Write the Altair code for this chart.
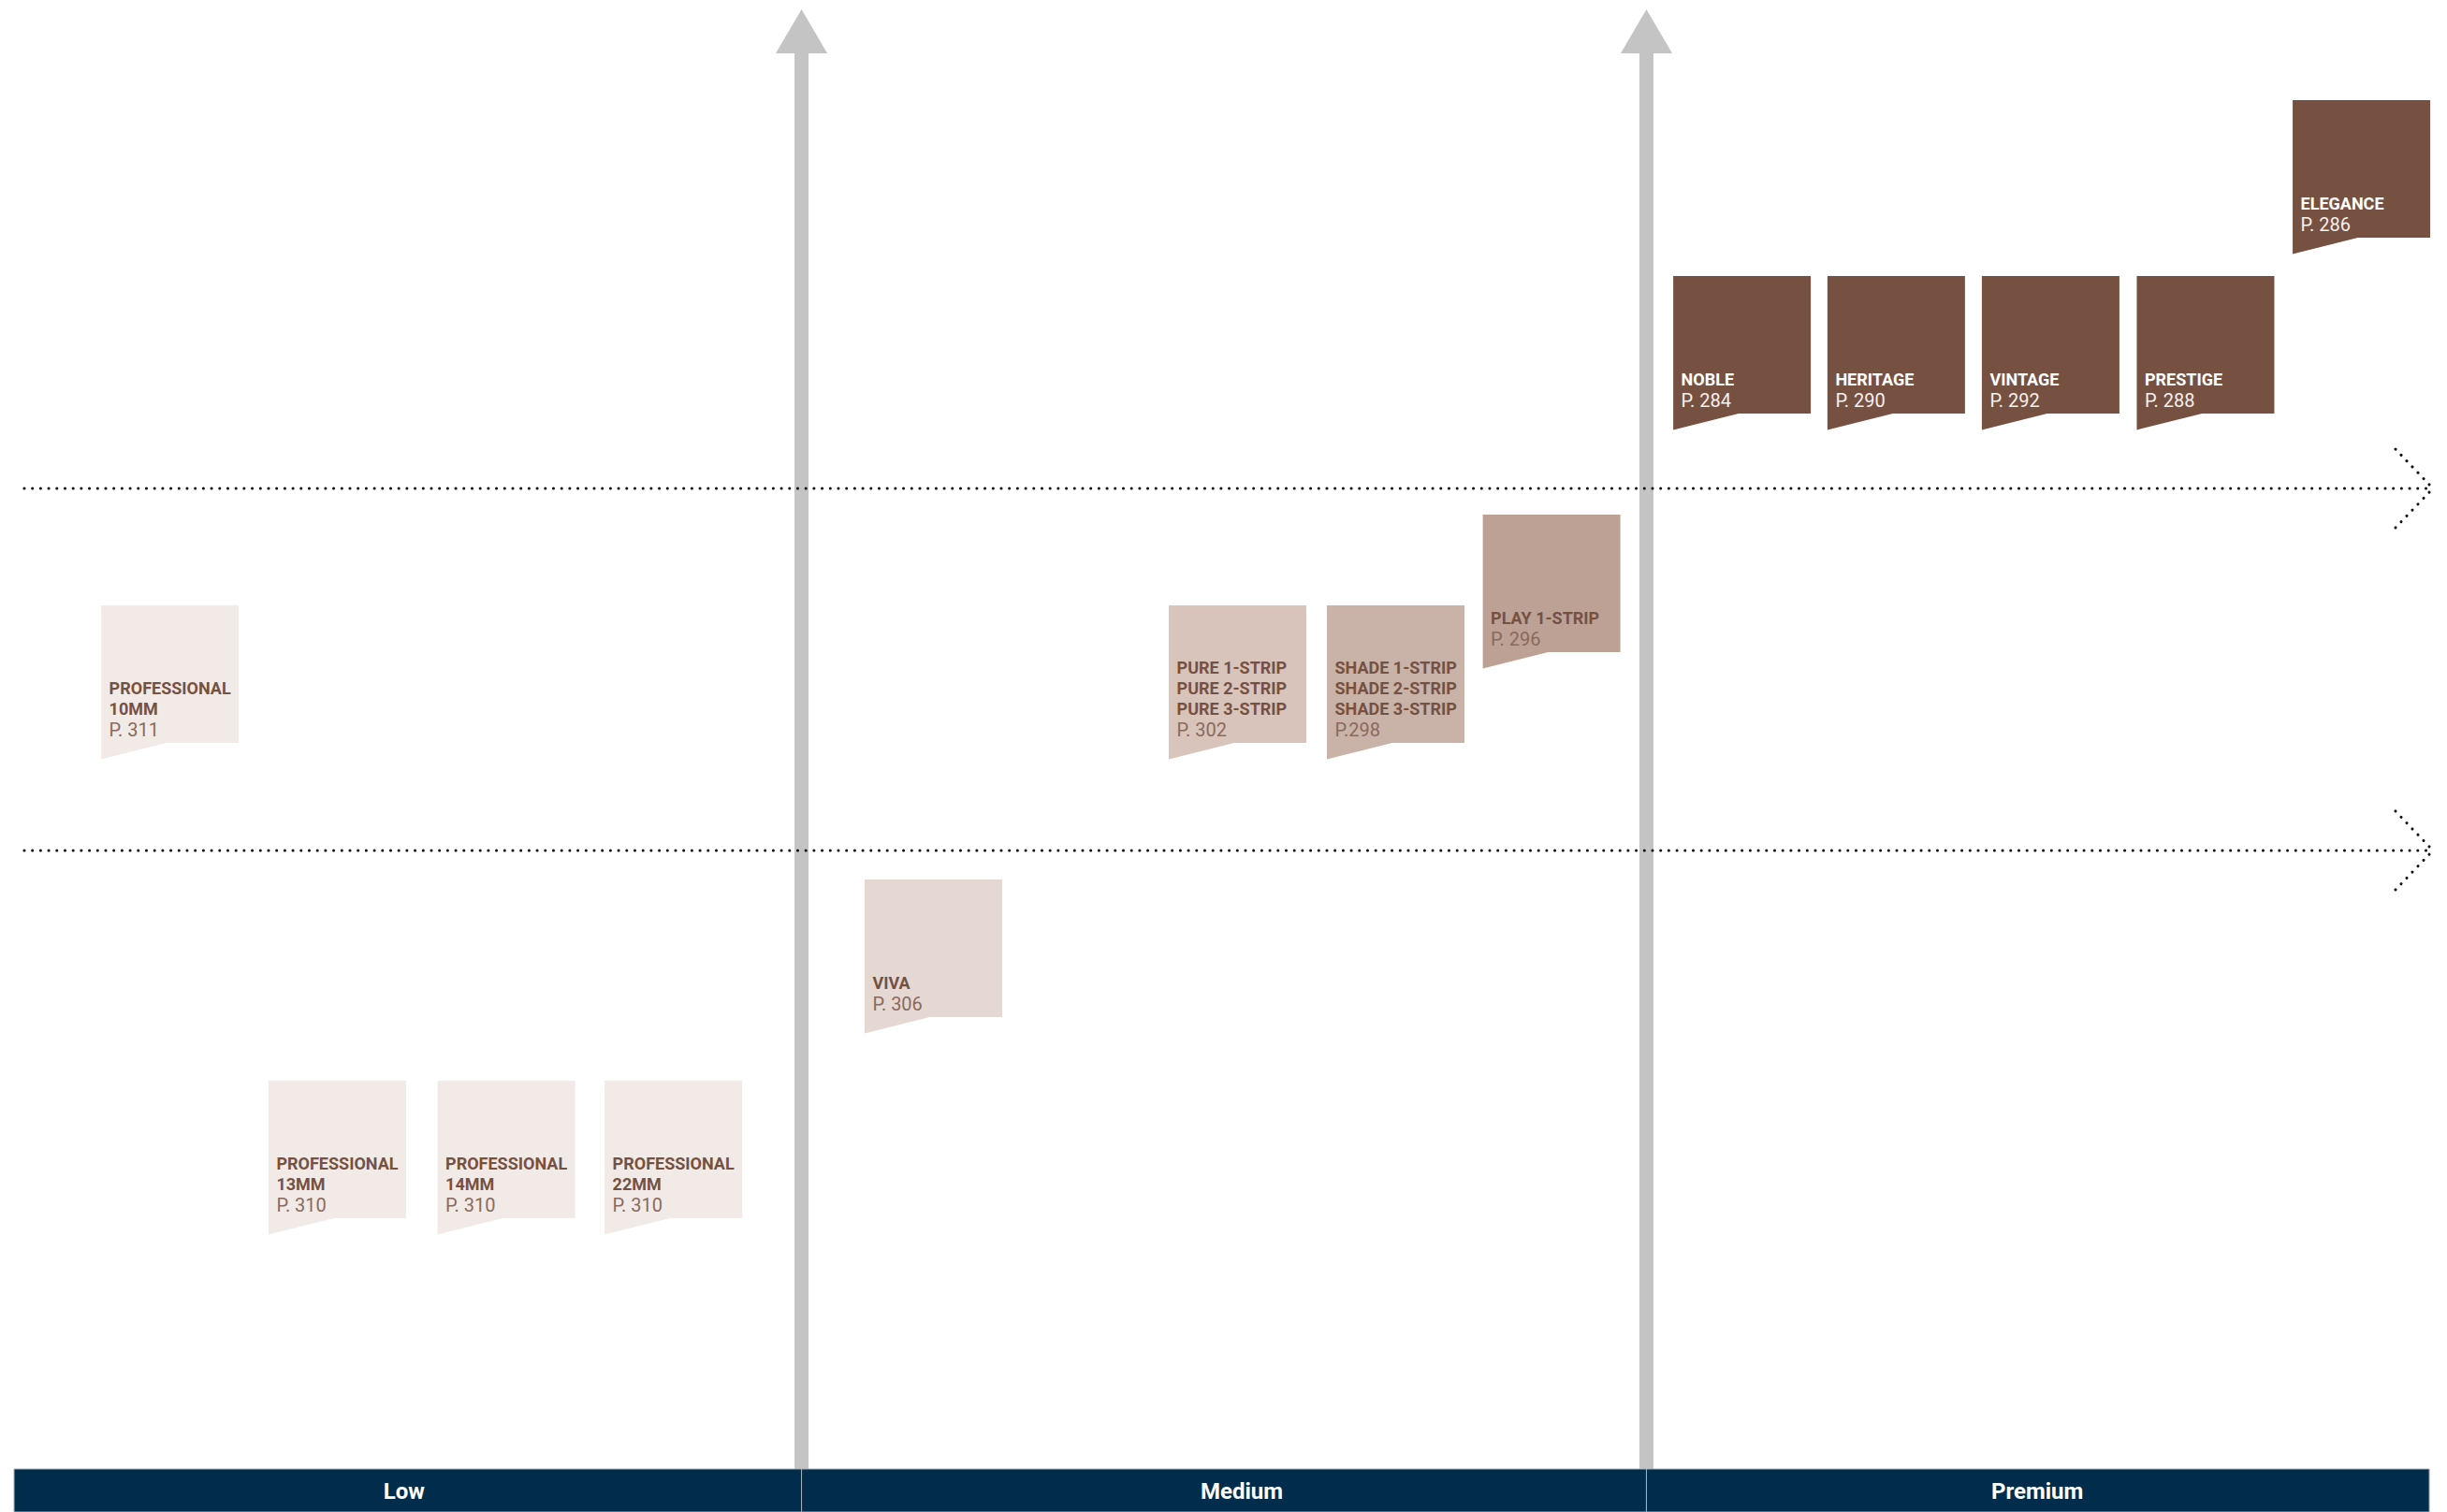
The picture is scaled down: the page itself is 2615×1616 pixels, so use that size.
import altair as alt
import pandas as pd

# ---------------- data ----------------
# product flags: name lines, catalogue page, product line, price index (0-100), quality index (0-100)
names = [
    "PROFESSIONAL\n10MM", "PROFESSIONAL\n13MM", "PROFESSIONAL\n14MM", "PROFESSIONAL\n22MM",
    "VIVA",
    "PURE 1-STRIP\nPURE 2-STRIP\nPURE 3-STRIP",
    "SHADE 1-STRIP\nSHADE 2-STRIP\nSHADE 3-STRIP",
    "PLAY 1-STRIP",
    "NOBLE", "HERITAGE", "VINTAGE", "PRESTIGE", "ELEGANCE",
]
pages = ["P. 311", "P. 310", "P. 310", "P. 310", "P. 306", "P. 302", "P.298",
         "P. 296", "P. 284", "P. 290", "P. 292", "P. 288", "P. 286"]
product_line = ["Professional"] * 4 + ["Viva", "Pure", "Shade", "Play"] + ["Luxury"] * 5
price = [6.68, 13.56, 20.51, 27.38, 38.07, 50.58, 57.08, 63.49, 71.32, 77.66, 84.01, 90.38, 96.79]
quality = [55.47, 23.72, 23.72, 23.72, 37.16, 55.47, 55.47, 61.53, 77.47, 77.47, 77.47, 77.47, 89.22]

# price tiers along the bottom band
tiers = ["Low", "Medium", "Premium"]
tier_start = [0.27, 32.65, 67.39]
tier_end = [32.65, 67.39, 99.58]
tier_label_at = [16.31, 50.75, 83.46]

# quality thresholds (dotted arrows)
quality_levels = [43.69, 67.875]

# ---------------- styles ----------------
FILL = {"Professional": "#F2EAE6", "Viva": "#E5D7D2", "Pure": "#D8C4BA",
        "Shade": "#C9B2A7", "Play": "#BDA194", "Luxury": "#765142"}
NAME_COLOR = {k: ("#FFFFFF" if k == "Luxury" else "#765142") for k in FILL}
PAGE_COLOR = {k: ("#F6F0ED" if k == "Luxury" else "#8A6A5C") for k in FILL}
NAVY = "#022C4C"
GREY = "#C4C4C4"
FONT = "Roboto"

H = 1608                  # plot height in px
YMIN = (1600 - H) / 16    # y index at the bottom edge (band runs to the page bottom)
BAND_TOP = 2.375          # top of the tier band (y index)
ARROW_BASE = 97.2         # where the grey shafts meet their heads
ARROW_HEAD = 98.41        # centre of the grey arrow heads
LINE_X0, LINE_X1 = 0.69, 99.73
CHEV_BACK, CHEV_HALF = 98.19, 2.625
LINE_H = 22               # line height of the bold names (px)

FLAG = "M-1,-1 L1,-1 L1,1 L-0.05,1 L-1,1.238 Z"
HEAD = "M0,-0.855 L1,0.855 L-1,0.855 Z"

X = dict(scale=alt.Scale(domain=[0, 100], nice=False, zero=False), axis=None)
Y = dict(scale=alt.Scale(domain=[YMIN, 100], nice=False, zero=False), axis=None)

prod = pd.DataFrame({"name": names, "page": pages, "line": product_line,
                     "price": price, "quality": quality})
prod["fill"] = prod["line"].map(FILL)
prod["ncol"] = prod["line"].map(NAME_COLOR)
prod["pcol"] = prod["line"].map(PAGE_COLOR)
prod["nlines"] = prod["name"].str.count("\n") + 1

band = pd.DataFrame({"tier": tiers, "x0": tier_start, "x1": tier_end,
                     "lx": tier_label_at, "y0": YMIN, "y1": BAND_TOP})

bounds = pd.DataFrame({"x": tier_start[1:], "y0": BAND_TOP, "y1": ARROW_BASE, "yh": ARROW_HEAD})

lev = pd.DataFrame({"q": quality_levels, "x0": LINE_X0, "x1": LINE_X1})
chev = pd.DataFrame(
    [{"xa": CHEV_BACK, "ya": q + s * CHEV_HALF, "xb": LINE_X1, "yb": q}
     for q in quality_levels for s in (1, -1)]
)

# ---------------- layers ----------------
shafts = alt.Chart(bounds).mark_rule(color=GREY, strokeWidth=15, strokeCap="butt").encode(
    x=alt.X("x:Q", **X), y=alt.Y("y0:Q", **Y), y2="y1:Q")
heads = alt.Chart(bounds).mark_point(shape=HEAD, size=3025, filled=True, opacity=1,
                                     color=GREY, strokeWidth=0).encode(
    x=alt.X("x:Q", **X), y=alt.Y("yh:Q", **Y))

dots = dict(color="#111111", strokeWidth=3, strokeDash=[0.1, 8.6], strokeCap="round")
levels = alt.Chart(lev).mark_rule(**dots).encode(
    x=alt.X("x0:Q", **X), x2="x1:Q", y=alt.Y("q:Q", **Y))
chevrons = alt.Chart(chev).mark_rule(**dots).encode(
    x=alt.X("xa:Q", **X), x2="xb:Q", y=alt.Y("ya:Q", **Y), y2="yb:Q")

band_rects = alt.Chart(band).mark_rect(color=NAVY, stroke="#A7B2BD", strokeWidth=1).encode(
    x=alt.X("x0:Q", **X), x2="x1:Q", y=alt.Y("y0:Q", **Y), y2="y1:Q")
band_text = alt.Chart(band).transform_calculate(ym="(datum.y0 + datum.y1) / 2").mark_text(
    font=FONT, fontWeight="bold", fontSize=24, color="white",
    baseline="middle", align="center", dy=2).encode(
    x=alt.X("lx:Q", **X), y=alt.Y("ym:Q", **Y), text="tier:N")

flags = alt.Chart(prod).mark_point(shape=FLAG, size=147 * 147, filled=True, opacity=1,
                                   strokeWidth=0).encode(
    x=alt.X("price:Q", **X), y=alt.Y("quality:Q", **Y), fill=alt.Fill("fill:N", scale=None))

# bold names, bottom-anchored: the first line moves up one line per extra line
name_layers = []
for n in sorted(prod["nlines"].unique()):
    name_layers.append(
        alt.Chart(prod).transform_filter(f"datum.nlines == {n}").mark_text(
            font=FONT, fontWeight="bold", fontSize=18, align="left",
            baseline="alphabetic", dx=-65, dy=43.5 - (n - 1) * LINE_H,
            lineBreak="\n", lineHeight=LINE_H).encode(
            x=alt.X("price:Q", **X), y=alt.Y("quality:Q", **Y), text="name:N",
            color=alt.Color("ncol:N", scale=None))
    )

page_text = alt.Chart(prod).mark_text(font=FONT, fontSize=20, align="left",
                                      baseline="alphabetic", dx=-65, dy=66.5).encode(
    x=alt.X("price:Q", **X), y=alt.Y("quality:Q", **Y), text="page:N",
    color=alt.Color("pcol:N", scale=None))

chart = alt.layer(shafts, heads, levels, chevrons, band_rects, band_text,
                  flags, *name_layers, page_text).properties(
    width=2599, height=H, padding=0,
    autosize=alt.AutoSizeParams(type="none"),
    background="white",
).configure_view(stroke=None)

chart.save("out.html", embed_options={"renderer": "svg", "actions": False})
